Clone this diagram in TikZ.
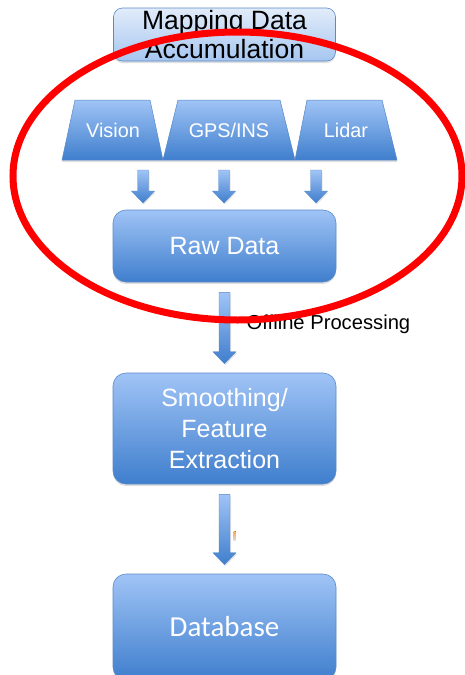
\documentclass[tikz,border=0pt]{standalone}
\usepackage{fontspec}
\setmainfont{Liberation Sans}
\newfontfamily\dbfont{Carlito}
\usetikzlibrary{calc,shadows,shapes.geometric}
\definecolor{boxtop}{HTML}{A0C4F6}
\definecolor{boxbot}{HTML}{3F7ECD}
\definecolor{boxline}{HTML}{5A8BC8}
\definecolor{lighttop}{HTML}{E2ECFA}
\definecolor{lightbot}{HTML}{A6C6F0}
\definecolor{ringred}{HTML}{FF0000}
\tikzset{
  bluebox/.style={rectangle, rounded corners=13pt, draw=boxline, line width=0.6pt,
    top color=boxtop, bottom color=boxbot, text=white, align=center,
    minimum width=223pt, inner sep=0pt,
    drop shadow={opacity=0.25, shadow xshift=0pt, shadow yshift=-2pt}},
  lightbox/.style={rectangle, rounded corners=9pt, draw=boxline, line width=0.6pt,
    top color=lighttop, bottom color=lightbot, text=black, align=center,
    minimum width=222pt, minimum height=53pt, inner sep=0pt,
    drop shadow={opacity=0.25, shadow xshift=0pt, shadow yshift=-2pt}},
  sensorshape/.style={draw=boxline, line width=0.5pt,
    top color=boxtop, bottom color=boxbot,
    drop shadow={opacity=0.25, shadow xshift=0pt, shadow yshift=-2pt}},
  sensortext/.style={text=white, inner sep=0pt, font=\fontsize{19.8}{22}\selectfont},
  blockarr/.style={top color=boxtop, bottom color=boxbot, draw=boxline, line width=0.4pt,
    drop shadow={opacity=0.2, shadow xshift=1pt, shadow yshift=-1.5pt}},
}
% block arrow from coordinate #1 (top) to coordinate #2 (tip)
\newcommand\myblockarrow[2]{%
  \path[blockarr] ($(#1)+(-5.5,0)$) -- ($(#2)+(-5.5,-12)$) -- ($(#2)+(-11.5,-12)$) -- (#2)
    -- ($(#2)+(11.5,-12)$) -- ($(#2)+(5.5,-12)$) -- ($(#1)+(5.5,0)$) -- cycle;}
\begin{document}
\begin{tikzpicture}[x=1pt,y=-1pt]
\useasboundingbox (0,0) rectangle (465,675);
% top box
\node[lightbox, font=\fontsize{26.5}{30.5}\selectfont] (acc) at (224.5,34.5) {Mapping Data\\[-1pt]Accumulation};
% sensors
\path[sensorshape] (75,100) -- (150,100) -- (163,160) -- (62,160) -- cycle;
\path[sensorshape] (178,100) -- (280,100) -- (295,160) -- (163,160) -- cycle;
\path[sensorshape] (307,100) -- (382,100) -- (397,160) -- (295,160) -- cycle;
\node[sensortext] (vis) at (113,130) {Vision};
\node[sensortext] (gps) at (229,130) {GPS/INS};
\node[sensortext] (lid) at (346,130) {Lidar};
% raw data
\node[bluebox, minimum height=72pt, font=\fontsize{25}{28}\selectfont] (raw) at (224.5,246) {Raw Data};
% smoothing
\node[bluebox, minimum height=111pt, font=\fontsize{25}{31}\selectfont] (smo) at (224.5,428.5) {Smoothing/\\Feature\\Extraction};
% database
\node[bluebox, minimum height=106pt, font=\dbfont\fontsize{29}{32}\selectfont] (db) at (224.5,627) {Database};
% small arrows
\coordinate (s1a) at (143,170); \coordinate (s1b) at (143,203);
\coordinate (s2a) at (224,170); \coordinate (s2b) at (224,203);
\coordinate (s3a) at (316,170); \coordinate (s3b) at (316,203);
\myblockarrow{s1a}{s1b}
\myblockarrow{s2a}{s2b}
\myblockarrow{s3a}{s3b}
% big arrows
\coordinate (b1a) at ($(raw.south)+(0,10)$); \coordinate (b1b) at ($(smo.north)+(0,-9)$);
\myblockarrow{b1a}{b1b}
\coordinate (b2a) at ($(smo.south)+(0,10)$); \coordinate (b2b) at ($(db.north)+(0,-9)$);
\myblockarrow{b2a}{b2b}
\node[anchor=west, font=\fontsize{20.2}{22}\selectfont, inner sep=0pt] (off) at (246.5,324) {Offline Processing};
% tiny orange mark
\fill[top color=orange!70, bottom color=gray!30] (233.5,531) rectangle (235.5,540);
% red ring
\node[ellipse, draw=ringred, line width=7pt, minimum width=449pt, minimum height=288pt, inner sep=0pt] (ring) at (237.5,176) {};
\end{tikzpicture}
\end{document}
